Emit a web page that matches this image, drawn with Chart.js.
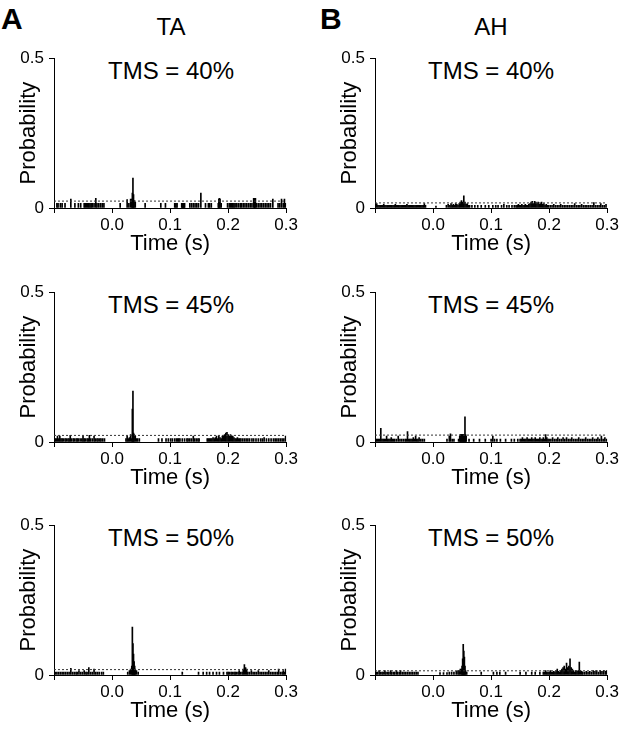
<!DOCTYPE html>
<html>
<head>
<meta charset="utf-8">
<script src="https://cdn.jsdelivr.net/npm/chart.js@4.4.1/dist/chart.umd.min.js"></script>
<style>
  body { margin: 0; background: #fff; width: 622px; height: 737px; position: relative; overflow: hidden;
         font-family: "Liberation Sans", Arial, sans-serif; }
  canvas { position: absolute; }
  .lbl { position: absolute; color: #000; white-space: nowrap; line-height: 1; }
  .mid { transform: translateX(-50%); }
</style>
</head>
<body>
<div class="lbl" style="left:1px;top:4px;font-size:30px;font-weight:bold">A</div>
<div class="lbl" style="left:320px;top:4px;font-size:30px;font-weight:bold">B</div>
<div class="lbl mid" style="left:171px;top:15px;font-size:24px">TA</div>
<div class="lbl mid" style="left:491px;top:15px;font-size:24px">AH</div>

<div class="lbl mid" style="left:171px;top:59px;font-size:24px">TMS = 40%</div>
<div class="lbl mid" style="left:491px;top:59px;font-size:24px">TMS = 40%</div>
<div class="lbl mid" style="left:171px;top:293px;font-size:24px">TMS = 45%</div>
<div class="lbl mid" style="left:491px;top:293px;font-size:24px">TMS = 45%</div>
<div class="lbl mid" style="left:171px;top:526px;font-size:24px">TMS = 50%</div>
<div class="lbl mid" style="left:491px;top:526px;font-size:24px">TMS = 50%</div>

<canvas id="ta40" width="300" height="215" style="left:0;top:43px"></canvas>
<canvas id="ah40" width="300" height="215" style="left:321px;top:43px"></canvas>
<canvas id="ta45" width="300" height="215" style="left:0;top:277px"></canvas>
<canvas id="ah45" width="300" height="215" style="left:321px;top:277px"></canvas>
<canvas id="ta50" width="300" height="215" style="left:0;top:510px"></canvas>
<canvas id="ah50" width="300" height="215" style="left:321px;top:510px"></canvas>

<script>
// axis setup (time in ms, shown in s)
const xMin = -100;
const xMax = 300;
const xTickLabels = ['', '0.0', '0.1', '0.2', '0.3'];
const yTickLabels = ['0', '0.5'];

// TA, TMS = 40%
const ta40Time = [-95,-93,-89,-86,-81,-71,-64,-58,-54,-48,-46,-44,-42,-40,-38,-36,-34,-31,-28,-26,-23,-20,-17,-14,
  14,26,29,32,34,35,36,37,38,40,57,84,92,
  108,110,112,120,121,122,123,124,125,134,137,140,143,146,149,153,161,166,168,171,
  183,184,185,186,188,199,202,204,206,208,210,212,215,218,221,223,226,229,232,235,238,241,
  244,245,246,247,249,252,255,258,261,264,267,270,273,277,286,289,292,295,297,299];
const ta40Prob = [.016,.016,.016,.016,.016,.03,.016,.016,.016,.016,.016,.016,.016,.016,.016,.016,.016,.016,.032,.016,.016,.016,.016,.016,
  .016,.028,.016,.03,.03,.05,.1,.045,.025,.02,.016,.016,.016,
  .016,.016,.016,.016,.016,.016,.016,.016,.016,.016,.016,.016,.016,.016,.016,.05,.016,.016,.016,.016,
  .016,.03,.032,.03,.016,.016,.016,.016,.016,.016,.016,.016,.016,.016,.016,.016,.016,.016,.016,.016,.016,.016,
  .032,.032,.032,.032,.016,.016,.016,.016,.016,.016,.016,.016,.016,.03,.016,.016,.03,.016,.03,.016];
const ta40Thr = 0.023;

// TA, TMS = 45%
const ta45Time = [-98,-96,-94,-92,-90,-88,-86,-84,-81,-79,-76,-74,-72,-70,-67,-65,-62,-60,-58,-55,-52,-50,-48,-46,-43,-41,-39,-37,-34,-31,-29,-26,-24,-21,-19,-16,-13,
  24,26,28,30,32,34,35,36,37,38,40,42,44,47,
  80,86,93,97,101,104,108,111,113,115,117,121,125,129,131,134,137,140,142,145,148,150,
  164,166,168,170,172,174,176,178,180,182,184,186,188,190,192,194,196,198,200,202,204,206,208,210,212,214,216,218,220,222,
  225,228,231,234,237,241,244,248,252,256,259,262,266,270,274,278,281,284,287,290,293,296,299];
const ta45Prob = [.011,.011,.02,.011,.02,.011,.011,.011,.011,.011,.011,.011,.022,.011,.011,.011,.011,.011,.011,.011,.011,.02,.011,.011,.011,.011,.022,.011,.011,.02,.011,.011,.011,.011,.011,.011,.011,
  .011,.02,.011,.015,.025,.011,.11,.17,.03,.025,.02,.011,.011,.011,
  .011,.011,.011,.011,.011,.011,.011,.011,.011,.011,.011,.011,.011,.011,.011,.011,.011,.02,.011,.011,.011,.011,
  .011,.011,.011,.011,.011,.015,.011,.015,.02,.011,.02,.015,.011,.02,.02,.025,.03,.032,.025,.02,.025,.02,.02,.015,.011,.011,.015,.011,.011,.011,
  .011,.011,.011,.011,.011,.011,.011,.011,.011,.011,.011,.015,.011,.011,.011,.011,.011,.011,.011,.011,.011,.011,.02];
const ta45Thr = 0.022;

// TA, TMS = 50%
const ta50Time = [-98,-95,-92,-89,-86,-83,-80,-77,-74,-71,-68,-65,-62,-60,-57,-54,-51,-48,-45,-43,-40,-37,-34,-31,-28,-25,-22,-18,-15,
  27,30,32,34,35,36,37,38,39,40,42,45,
  121,149,157,163,168,174,180,185,192,
  198,200,202,205,207,210,212,214,217,219,221,224,226,228,230,232,234,237,240,243,246,249,252,255,258,261,264,267,270,273,276,279,282,285,287,290,293,295,297,299];
const ta50Prob = [.01,.01,.01,.01,.01,.01,.01,.01,.01,.022,.01,.01,.01,.01,.015,.01,.01,.015,.01,.01,.025,.01,.01,.02,.01,.01,.01,.01,.01,
  .01,.015,.02,.03,.16,.105,.07,.045,.03,.02,.015,.01,
  .01,.01,.01,.01,.01,.01,.01,.01,.01,
  .01,.01,.01,.01,.01,.01,.01,.01,.01,.015,.01,.01,.02,.035,.025,.02,.01,.01,.015,.01,.01,.01,.015,.01,.01,.01,.01,.01,.015,.01,.01,.01,.01,.01,.02,.01,.01,.015,.01,.02];
const ta50Thr = 0.018;

// AH, TMS = 40%
const ah40Time = [-99,-97,-95,-93,-91,-89,-87,-85,-83,-81,-79,-77,-75,-73,-71,-69,-67,-65,-63,-61,-59,-57,-55,-53,-51,-49,-47,-45,-43,-41,-39,-37,-35,-33,-31,-29,-27,-25,-23,-21,-19,-17,-15,-13,
  5,23,26,29,31,33,35,37,39,41,43,45,47,49,51,53,55,57,59,61,63,
  67,72,77,83,90,96,103,108,112,118,122,127,131,136,140,
  143,145,147,149,151,153,155,157,159,161,163,165,167,169,171,173,175,177,179,181,183,185,187,189,191,193,195,197,199,
  202,205,208,211,214,217,220,223,226,229,232,235,238,241,244,247,250,253,256,259,262,265,268,271,274,277,280,283,286,289,292,295,298];
const ah40Prob = [.009,.015,.009,.009,.009,.009,.009,.012,.009,.009,.009,.009,.009,.009,.009,.009,.009,.012,.009,.009,.009,.009,.009,.009,.009,.009,.009,.012,.009,.009,.009,.009,.009,.009,.009,.009,.009,.009,.009,.009,.009,.009,.015,.009,
  .006,.009,.012,.009,.015,.009,.012,.009,.015,.012,.009,.015,.02,.025,.02,.041,.02,.012,.015,.009,.009,
  .009,.009,.009,.009,.009,.009,.009,.009,.009,.009,.012,.009,.009,.009,.009,
  .009,.009,.012,.009,.009,.012,.009,.009,.012,.009,.009,.012,.015,.02,.022,.015,.022,.02,.015,.02,.012,.015,.02,.012,.015,.009,.012,.009,.009,
  .009,.009,.012,.009,.009,.009,.012,.009,.009,.009,.009,.009,.009,.009,.015,.009,.009,.009,.012,.009,.009,.009,.009,.009,.009,.018,.009,.009,.009,.015,.009,.009,.012];
const ah40Thr = 0.017;

// AH, TMS = 45%
const ah45Time = [-98,-96,-94,-92,-90,-88,-86,-84,-82,-80,-78,-76,-74,-72,-70,-68,-66,-63,-60,-57,-54,-51,-48,-46,-44,-42,-40,-38,-36,-34,-32,-30,-28,-26,-24,-21,-18,-15,
  24,28,30,33,36,44,46,47,48,49,50,51,52,53,54,55,56,57,
  62,70,80,90,100,103,106,110,116,125,135,140,146,
  150,152,154,156,158,160,162,164,166,168,170,172,174,176,178,180,182,184,186,188,190,192,194,196,198,200,
  203,206,209,212,215,218,221,224,227,230,233,236,239,242,245,248,251,254,257,260,263,266,269,272,275,278,281,284,287,290,293,296,299];
const ah45Prob = [.01,.01,.01,.01,.046,.01,.01,.01,.01,.02,.01,.01,.01,.015,.01,.01,.01,.01,.02,.01,.01,.01,.01,.01,.035,.01,.01,.01,.01,.015,.01,.02,.01,.01,.015,.01,.01,.01,
  .01,.02,.027,.01,.01,.01,.02,.025,.025,.025,.025,.025,.025,.025,.025,.084,.025,.02,
  .01,.01,.01,.01,.01,.02,.01,.01,.01,.01,.01,.01,.01,
  .01,.01,.015,.01,.01,.01,.015,.01,.01,.01,.015,.01,.01,.015,.01,.01,.01,.015,.01,.01,.015,.01,.025,.015,.01,.01,
  .01,.015,.01,.01,.015,.01,.01,.015,.01,.015,.01,.01,.015,.01,.01,.01,.015,.01,.01,.01,.015,.01,.01,.01,.015,.01,.01,.015,.01,.02,.01,.015,.01];
const ah45Thr = 0.023;

// AH, TMS = 50%
const ah50Time = [-98,-96,-93,-91,-88,-86,-83,-81,-78,-76,-73,-71,-68,-66,-63,-61,-58,-56,-53,-50,-47,-44,-41,-38,-35,-32,-29,-26,
  12,18,24,28,32,36,40,43,45,47,49,50,51,52,53,54,55,56,58,
  83,104,110,115,125,150,160,170,176,184,
  190,192,194,196,198,200,202,204,206,208,210,212,214,216,218,220,222,224,226,228,
  230,232,234,236,238,240,242,244,246,248,250,252,254,256,258,261,264,267,270,273,276,279,282,285,288,291,294,297,299];
const ah50Prob = [.01,.01,.015,.01,.01,.01,.015,.01,.01,.01,.015,.01,.01,.01,.015,.01,.01,.015,.01,.01,.01,.01,.01,.01,.01,.01,.01,.01,
  .008,.008,.008,.01,.01,.01,.012,.015,.015,.02,.02,.03,.054,.102,.08,.06,.03,.015,.01,
  .01,.01,.01,.01,.01,.01,.01,.01,.01,.01,
  .01,.01,.015,.01,.01,.01,.015,.01,.01,.012,.01,.015,.02,.012,.01,.015,.02,.025,.03,.02,
  .04,.025,.03,.054,.025,.02,.015,.01,.015,.012,.015,.043,.015,.012,.01,.01,.012,.01,.012,.01,.015,.012,.015,.01,.015,.012,.015,.012,.015];
const ah50Thr = 0.014;

Chart.defaults.font.family = '"Liberation Sans", Arial, sans-serif';
Chart.defaults.color = '#000';

function drawPanel(id, times, probs, threshold, padRight) {
    const ctx = document.getElementById(id).getContext('2d');
    new Chart(ctx, {
        type: 'bar',
        data: {
            datasets: [{
                type: 'line',
                data: [{x: xMin, y: threshold}, {x: xMax, y: threshold}],
                borderColor: '#333',
                borderWidth: 1,
                borderDash: [2, 2],
                pointRadius: 0,
                order: 0
            }, {
                type: 'bar',
                data: times.map((t, i) => ({x: t, y: probs[i]})),
                backgroundColor: '#000',
                borderWidth: 0,
                barThickness: 1,
                order: 1
            }]
        },
        options: {
            responsive: false,
            animation: false,
            devicePixelRatio: 1,
            layout: { padding: { top: 10, right: padRight, left: 0, bottom: 0 } },
            plugins: { legend: { display: false }, tooltip: { enabled: false } },
            scales: {
                x: {
                    type: 'linear',
                    min: xMin,
                    max: xMax,
                    offset: false,
                    grid: { drawOnChartArea: false, drawTicks: true, tickLength: 5, color: '#000', offset: false },
                    border: { display: true, color: '#000', width: 1 },
                    ticks: { stepSize: 100, autoSkip: false, maxRotation: 0, padding: 2, font: { size: 17 },
                             callback: (v, i) => xTickLabels[i] },
                    title: { display: true, text: 'Time (s)', font: { size: 22 }, padding: { top: 0, bottom: 1 } },
                    afterFit: s => { s.height = 50; }
                },
                y: {
                    min: 0,
                    max: 0.5,
                    grid: { drawOnChartArea: false, drawTicks: true, tickLength: 5, color: '#000' },
                    border: { display: true, color: '#000', width: 1 },
                    ticks: { stepSize: 0.5, padding: 5, font: { size: 17 }, callback: (v, i) => yTickLabels[i] },
                    title: { display: true, text: 'Probability', font: { size: 22 }, padding: { top: 16, bottom: 0 } },
                    afterFit: s => { s.width = 54; }
                }
            }
        }
    });
}

drawPanel('ta40', ta40Time, ta40Prob, ta40Thr, 12);
drawPanel('ah40', ah40Time, ah40Prob, ah40Thr, 13);
drawPanel('ta45', ta45Time, ta45Prob, ta45Thr, 12);
drawPanel('ah45', ah45Time, ah45Prob, ah45Thr, 13);
drawPanel('ta50', ta50Time, ta50Prob, ta50Thr, 12);
drawPanel('ah50', ah50Time, ah50Prob, ah50Thr, 13);
</script>
</body>
</html>
